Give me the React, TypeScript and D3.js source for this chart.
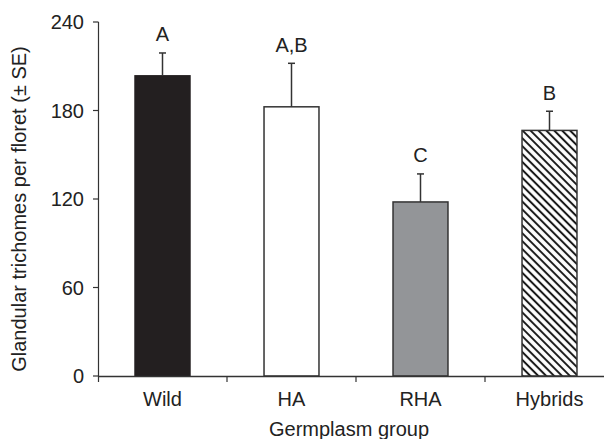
import React, { useEffect, useRef } from "react";
import * as d3 from "d3";

const groups = ["Wild", "HA", "RHA", "Hybrids"];
const means = [203.5, 182.5, 118, 166.5];
const errors = [15.5, 29.5, 19, 13];
const letters = ["A", "A,B", "C", "B"];
const yTicks = [0, 60, 120, 180, 240];

const App = () => {
  const ref = useRef<SVGSVGElement>(null);

  useEffect(() => {
    const svg = d3.select(ref.current);
    svg.selectAll("*").remove();

    const font = "'Liberation Sans', Arial, Helvetica, sans-serif";
    const fs = 20;
    const axisColor = "#333";
    const textColor = "#222";

    const y = d3.scaleLinear().domain([0, 240]).range([376, 22]);
    const x = d3
      .scaleBand()
      .domain(groups)
      .range([98, 614])
      .paddingInner(0.574)
      .paddingOuter(0.287);

    // diagonal hatch for the hybrids bar
    const defs = svg.append("defs");
    const sp = 5.6;
    const pat = defs
      .append("pattern")
      .attr("id", "hatch")
      .attr("patternUnits", "userSpaceOnUse")
      .attr("width", sp)
      .attr("height", sp)
      .attr("patternTransform", "rotate(45)");
    pat.append("rect").attr("width", sp).attr("height", sp).attr("fill", "white");
    pat
      .append("line")
      .attr("x1", 0)
      .attr("y1", sp / 2)
      .attr("x2", sp)
      .attr("y2", sp / 2)
      .attr("stroke", "#1a1a1a")
      .attr("stroke-width", 2);

    const fills = ["#231f20", "#ffffff", "#939598", "url(#hatch)"];

    const g = svg.append("g");

    // bars
    g.selectAll("rect.bar")
      .data(groups)
      .enter()
      .append("rect")
      .attr("class", "bar")
      .attr("x", d => x(d)!)
      .attr("width", x.bandwidth())
      .attr("y", (d, i) => y(means[i]))
      .attr("height", (d, i) => y(0) - y(means[i]))
      .attr("fill", (d, i) => fills[i])
      .attr("stroke", (d, i) => (i === 0 ? "#231f20" : "#333"))
      .attr("stroke-width", 1.5);

    // error bars + letters
    groups.forEach((d, i) => {
      const cx = x(d)! + x.bandwidth() / 2;
      const top = y(means[i] + errors[i]);
      g.append("line")
        .attr("x1", cx)
        .attr("x2", cx)
        .attr("y1", y(means[i]))
        .attr("y2", top)
        .attr("stroke", "#333")
        .attr("stroke-width", 1.5);
      g.append("line")
        .attr("x1", cx - 3.5)
        .attr("x2", cx + 3.5)
        .attr("y1", top)
        .attr("y2", top)
        .attr("stroke", "#333")
        .attr("stroke-width", 1.5);
      g.append("text")
        .attr("x", cx)
        .attr("y", top - 11.5)
        .attr("text-anchor", "middle")
        .attr("font-family", font)
        .attr("font-size", fs)
        .attr("fill", textColor)
        .text(letters[i]);
    });

    // y axis
    g.append("line")
      .attr("x1", 98.5)
      .attr("x2", 98.5)
      .attr("y1", y(240))
      .attr("y2", y(0) + 6)
      .attr("stroke", axisColor)
      .attr("stroke-width", 1.2);
    yTicks.forEach(t => {
      g.append("line")
        .attr("x1", 93)
        .attr("x2", 98.5)
        .attr("y1", y(t))
        .attr("y2", y(t))
        .attr("stroke", axisColor)
        .attr("stroke-width", 1.2);
      g.append("text")
        .attr("x", 84)
        .attr("y", y(t))
        .attr("dy", "0.36em")
        .attr("text-anchor", "end")
        .attr("font-family", font)
        .attr("font-size", fs)
        .attr("fill", textColor)
        .text(t);
    });

    // x axis
    g.append("line")
      .attr("x1", 98)
      .attr("x2", 604)
      .attr("y1", y(0) + 0.5)
      .attr("y2", y(0) + 0.5)
      .attr("stroke", axisColor)
      .attr("stroke-width", 1.4);
    groups.forEach((d, i) => {
      const bx = x(d)! - (x.step() - x.bandwidth()) / 2;
      if (i > 0) {
        g.append("line")
          .attr("x1", bx)
          .attr("x2", bx)
          .attr("y1", y(0))
          .attr("y2", y(0) + 6)
          .attr("stroke", axisColor)
          .attr("stroke-width", 1.2);
      }
      g.append("text")
        .attr("x", x(d)! + x.bandwidth() / 2)
        .attr("y", 406)
        .attr("text-anchor", "middle")
        .attr("font-family", font)
        .attr("font-size", fs)
        .attr("fill", textColor)
        .text(d);
    });

    // axis titles
    g.append("text")
      .attr("x", 349)
      .attr("y", 436)
      .attr("text-anchor", "middle")
      .attr("font-family", font)
      .attr("font-size", fs)
      .attr("fill", textColor)
      .text("Germplasm group");

    g.append("text")
      .attr("transform", "translate(26, 209) rotate(-90)")
      .attr("text-anchor", "middle")
      .attr("font-family", font)
      .attr("font-size", fs)
      .attr("fill", textColor)
      .text("Glandular trichomes per floret (\u00b1 SE)");
  }, []);

  return (
    <svg
      ref={ref}
      width={604}
      height={439}
      style={{ position: "absolute", left: 0, top: 0, background: "white" }}
    />
  );
};

export default App;
